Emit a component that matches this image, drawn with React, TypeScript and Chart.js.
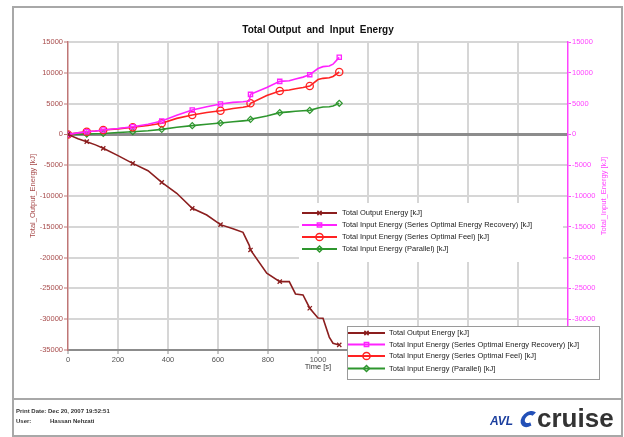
import React, { useEffect, useRef } from 'react';
import { Chart, registerables } from 'chart.js';
import { drawPoint } from 'chart.js/helpers';

Chart.register(...registerables);

// ---- Data ----
const timeSeconds = [0, 40, 75, 110, 141, 200, 259, 320, 375, 435, 497, 555, 610, 660, 700, 725, 730, 795, 847, 885, 910, 940, 967, 1000, 1020, 1045, 1060, 1085];
const outputEnergy = [0, -700, -1180, -1700, -2260, -3450, -4700, -5900, -7780, -9560, -12000, -13080, -14650, -15300, -15900, -18000, -18760, -22540, -23900, -23900, -25900, -26060, -28220, -29800, -29850, -32900, -33900, -34180];
const inputRecovery = [0, 250, 440, 550, 714, 950, 1250, 1650, 2170, 3100, 3960, 4500, 4930, 5200, 5300, 5400, 6500, 7600, 8610, 8700, 9000, 9300, 9700, 10700, 11000, 11100, 11400, 12510];
const inputFeel = [0, 250, 440, 550, 714, 900, 1150, 1450, 1800, 2600, 3150, 3550, 3850, 4200, 4400, 4600, 5050, 6300, 7040, 7200, 7400, 7600, 7850, 8900, 9100, 9200, 9400, 10130];
const inputParallel = [0, 20, 50, 100, 150, 300, 440, 600, 820, 1150, 1420, 1650, 1850, 2050, 2200, 2300, 2450, 3000, 3530, 3650, 3750, 3850, 3900, 4300, 4450, 4500, 4600, 5050];
const markerTimes = [0, 75, 141, 259, 375, 497, 610, 730, 847, 967, 1085];

const seriesLabels = [
  'Total Output Energy [kJ]',
  'Total Input Energy (Series Optimal Energy Recovery) [kJ]',
  'Total Input Energy (Series Optimal Feel) [kJ]',
  'Total Input Energy (Parallel) [kJ]',
];
const xTickValues = [0, 200, 400, 600, 800, 1000, 1200, 1400, 1600, 1800, 2000];

const titleText = 'Total Output  and  Input  Energy';
const leftAxisTitle = 'Total_Output_Energy [kJ]';
const rightAxisTitle = 'Total_Input_Energy [kJ]';
const xAxisTitle = 'Time [s]';
const printDateText = 'Print Date: Dec 20, 2007 19:52:51';
const userLabel = 'User:';
const userName = 'Hassan Nehzati';

const FONT = '"Liberation Sans", Arial, sans-serif';

const COL_OUT = '#8b1e1e';
const COL_REC = '#ff22ff';
const COL_FEEL = '#ff2222';
const COL_PAR = '#2e962e';
const COL_LEFT = '#a84c4c';
const COL_LEFT_AXIS = '#bf7676';
const COL_RIGHT = '#ff44ff';
const GRID = '#d6d6d6';
const DARK_GRID = '#8c8c8c';

function toPoints(values: number[]) {
  return values.map((v, i) => ({ x: timeSeconds[i], y: v }));
}
function radii(r: number) {
  return timeSeconds.map((t) => (markerTimes.includes(t) ? r : 0));
}

const decorPlugin = {
  id: 'decor',
  beforeDraw(chart: any) {
    const ctx = chart.ctx;
    ctx.save();
    ctx.fillStyle = '#ffffff';
    ctx.fillRect(0, 0, chart.width, chart.height);
    ctx.restore();
  },
  afterDraw(chart: any) {
    const ctx: CanvasRenderingContext2D = chart.ctx;
    const ds = chart.data.datasets;
    ctx.save();

    // Title
    ctx.fillStyle = '#111';
    ctx.font = `bold 10px ${FONT}`;
    ctx.textAlign = 'center';
    ctx.textBaseline = 'middle';
    ctx.fillText(titleText, 318, 30);

    // Axis titles
    ctx.font = `7.5px ${FONT}`;
    ctx.fillStyle = COL_LEFT;
    ctx.save();
    ctx.translate(33, 196);
    ctx.rotate(-Math.PI / 2);
    ctx.fillText(leftAxisTitle, 0, 0);
    ctx.restore();
    ctx.fillStyle = COL_RIGHT;
    ctx.save();
    ctx.translate(604, 196);
    ctx.rotate(-Math.PI / 2);
    ctx.fillText(rightAxisTitle, 0, 0);
    ctx.restore();
    ctx.fillStyle = '#333';
    ctx.fillText(xAxisTitle, 318, 367);

    const drawLegend = (x0: number, x1: number, tx: number, rows: number[]) => {
      ds.forEach((d: any, i: number) => {
        const y = rows[i];
        ctx.strokeStyle = d.borderColor;
        ctx.lineWidth = 2;
        ctx.beginPath();
        ctx.moveTo(x0, y);
        ctx.lineTo(x1, y);
        ctx.stroke();
        ctx.fillStyle = 'rgba(255,255,255,0)';
        ctx.strokeStyle = d.borderColor;
        ctx.lineWidth = 1.5;
        drawPoint(ctx, { pointStyle: d.pointStyle, radius: d.legendRadius, borderWidth: 1.5, rotation: 0 } as any, (x0 + x1) / 2, y);
        ctx.fillStyle = '#222';
        ctx.font = `7.5px ${FONT}`;
        ctx.textAlign = 'left';
        ctx.textBaseline = 'middle';
        ctx.fillText(d.label, tx, y);
      });
    };

    // Upper legend (no border)
    ctx.fillStyle = '#ffffff';
    ctx.fillRect(299, 203, 264, 59);
    drawLegend(302, 337, 342, [213, 225, 237, 249]);

    // Lower legend (bordered)
    ctx.fillStyle = '#ffffff';
    ctx.fillRect(347, 326, 252, 53);
    ctx.strokeStyle = '#9a9a9a';
    ctx.lineWidth = 1;
    ctx.strokeRect(347.5, 326.5, 252, 53);
    drawLegend(348, 385, 389, [333, 344.5, 356, 368.5]);

    // Frame and footer
    ctx.strokeStyle = '#a8a8a8';
    ctx.lineWidth = 2;
    ctx.strokeRect(13, 7, 609, 429);
    ctx.beginPath();
    ctx.moveTo(13, 399);
    ctx.lineTo(622, 399);
    ctx.stroke();

    ctx.fillStyle = '#333';
    ctx.font = `bold 6px ${FONT}`;
    ctx.textAlign = 'left';
    ctx.textBaseline = 'middle';
    ctx.fillText(printDateText, 16, 411);
    ctx.fillText(userLabel, 16, 421);
    ctx.fillText(userName, 50, 421);

    // Logo
    ctx.fillStyle = '#1c3f9e';
    ctx.font = `italic bold 12px ${FONT}`;
    ctx.textBaseline = 'alphabetic';
    ctx.fillText('AVL', 490, 425);
    ctx.save();
    ctx.translate(529, 419);
    ctx.transform(1, 0, -0.35, 1, 0, 0);
    ctx.strokeStyle = '#2350b8';
    ctx.lineWidth = 4;
    ctx.beginPath();
    ctx.arc(0, 0, 6, -0.3 * Math.PI, 0.3 * Math.PI, true);
    ctx.stroke();
    ctx.restore();
    ctx.fillStyle = '#333';
    ctx.font = `bold 26px ${FONT}`;
    ctx.fillText('cruise', 537, 427);

    ctx.restore();
  },
};

export default function App() {
  const canvasRef = useRef<HTMLCanvasElement | null>(null);

  useEffect(() => {
    if (!canvasRef.current) return;
    const tickFont = { family: FONT, size: 7.5 };
    const chart = new Chart(canvasRef.current, {
      type: 'line',
      data: {
        datasets: [
          {
            label: seriesLabels[0],
            data: toPoints(outputEnergy),
            yAxisID: 'y',
            borderColor: COL_OUT,
            borderWidth: 1.6,
            pointStyle: 'crossRot',
            pointRadius: radii(3),
            pointBorderWidth: 1.3,
            pointBorderColor: COL_OUT,
            pointBackgroundColor: 'rgba(255,255,255,0)',
            legendRadius: 3,
            tension: 0,
          } as any,
          {
            label: seriesLabels[1],
            data: toPoints(inputRecovery),
            yAxisID: 'y2',
            borderColor: COL_REC,
            borderWidth: 1.6,
            pointStyle: 'rect',
            pointRadius: radii(3),
            pointBorderWidth: 1.3,
            pointBorderColor: COL_REC,
            pointBackgroundColor: 'rgba(255,255,255,0)',
            legendRadius: 3,
            tension: 0,
          } as any,
          {
            label: seriesLabels[2],
            data: toPoints(inputFeel),
            yAxisID: 'y2',
            borderColor: COL_FEEL,
            borderWidth: 1.6,
            pointStyle: 'circle',
            pointRadius: radii(3.6),
            pointBorderWidth: 1.3,
            pointBorderColor: COL_FEEL,
            pointBackgroundColor: 'rgba(255,255,255,0)',
            legendRadius: 3.6,
            tension: 0,
          } as any,
          {
            label: seriesLabels[3],
            data: toPoints(inputParallel),
            yAxisID: 'y2',
            borderColor: COL_PAR,
            borderWidth: 1.6,
            pointStyle: 'rectRot',
            pointRadius: radii(3),
            pointBorderWidth: 1.2,
            pointBorderColor: COL_PAR,
            pointBackgroundColor: 'rgba(255,255,255,0)',
            legendRadius: 3,
            tension: 0,
          } as any,
        ],
      },
      options: {
        responsive: false,
        animation: false,
        layout: { padding: { top: 42, left: 0, right: 0, bottom: 0 } },
        plugins: {
          legend: { display: false },
          title: { display: false },
          tooltip: { enabled: false },
        },
        scales: {
          x: {
            type: 'linear',
            position: 'bottom',
            min: 0,
            max: 2000,
            afterBuildTicks: (s: any) => {
              s.ticks = xTickValues.map((v) => ({ value: v }));
            },
            ticks: {
              color: '#555',
              font: tickFont,
              padding: 1,
              maxRotation: 0,
              autoSkip: false,
              callback: (v: any) => String(v),
            },
            grid: {
              color: (c: any) => (c.tick && (c.tick.value === 0 || c.tick.value === 2000) ? 'rgba(0,0,0,0)' : GRID),
              lineWidth: 2,
              tickLength: 4,
              tickColor: DARK_GRID,
              tickWidth: 1,
            },
            border: { color: DARK_GRID, width: 2 },
            afterFit: (s: any) => {
              s.height = 87;
            },
          },
          y: {
            position: 'left',
            min: -35000,
            max: 15000,
            ticks: {
              stepSize: 5000,
              color: COL_LEFT,
              font: tickFont,
              padding: 1,
              callback: (v: any) => String(v),
            },
            grid: {
              color: (c: any) =>
                c.tick && c.tick.value === 0 ? DARK_GRID : c.tick && c.tick.value === -35000 ? 'rgba(0,0,0,0)' : GRID,
              lineWidth: (c: any) => (c.tick && c.tick.value === 0 ? 3 : 2),
              tickLength: 4,
              tickColor: COL_LEFT_AXIS,
              tickWidth: 1,
            },
            border: { color: COL_LEFT_AXIS, width: 1.5 },
            afterFit: (s: any) => {
              s.width = 68;
            },
          },
          y2: {
            position: 'right',
            min: -35000,
            max: 15000,
            ticks: {
              stepSize: 5000,
              color: COL_RIGHT,
              font: tickFont,
              padding: 1,
              callback: (v: any) => String(v),
            },
            grid: {
              drawOnChartArea: false,
              tickLength: 3,
              tickColor: COL_RIGHT,
              tickWidth: 1,
            },
            border: { color: COL_RIGHT, width: 1.5 },
            afterFit: (s: any) => {
              s.width = 56;
            },
          },
        },
      } as any,
      plugins: [decorPlugin],
    });
    return () => chart.destroy();
  }, []);

  return (
    <div style={{ position: 'fixed', left: 0, top: 0, width: 624, height: 437, background: '#fff' }}>
      <canvas ref={canvasRef} width={624} height={437} style={{ display: 'block' }} />
    </div>
  );
}
